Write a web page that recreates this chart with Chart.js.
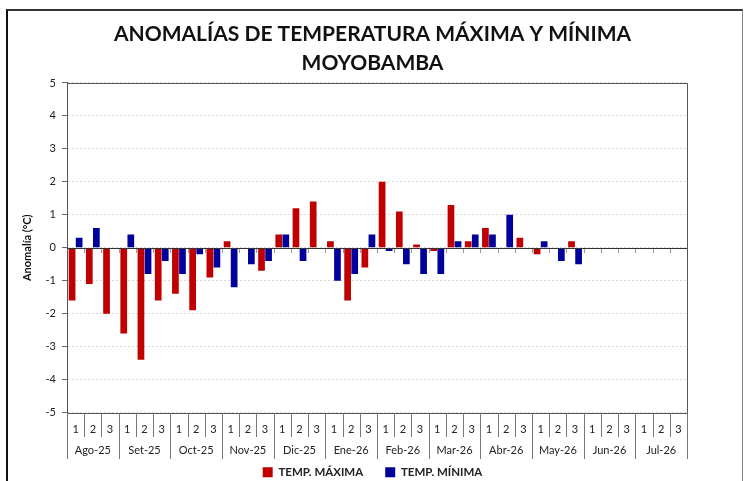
<!DOCTYPE html>
<html>
<head>
<meta charset="utf-8">
<script src="https://cdn.jsdelivr.net/npm/chart.js@4.4.1/dist/chart.umd.min.js"></script>
<style>
  html, body { margin: 0; padding: 0; background: #fff; }
  #wrap { position: relative; width: 745px; height: 481px; }
  #frame {
    position: absolute; left: 6px; top: 9px; width: 734px; height: 480px;
    border-left: 2px solid #111; border-top: 2px solid #333; border-right: 1px solid #888;
    pointer-events: none;
  }
</style>
</head>
<body>
<div id="wrap">
  <canvas id="chart" width="745" height="481"></canvas>
  <div id="frame"></div>
</div>
<script>
const months = ['Ago-25', 'Set-25', 'Oct-25', 'Nov-25', 'Dic-25', 'Ene-26',
                'Feb-26', 'Mar-26', 'Abr-26', 'May-26', 'Jun-26', 'Jul-26'];
const dekads = months.flatMap(() => ['1', '2', '3']);

// anomalias por decadas (°C)
const tempMax = [-1.6, -1.1, -2.0,  -2.6, -3.4, -1.6,  -1.4, -1.9, -0.9,
                  0.2,  0.0, -0.7,   0.4,  1.2,  1.4,   0.2, -1.6, -0.6,
                  2.0,  1.1,  0.1,  -0.1,  1.3,  0.2,   0.6,  0.0,  0.3,
                 -0.2,  0.0,  0.2,  null, null, null,  null, null, null];
const tempMin = [ 0.3,  0.6,  0.0,   0.4, -0.8, -0.4,  -0.8, -0.2, -0.6,
                 -1.2, -0.5, -0.4,   0.4, -0.4,  0.0,  -1.0, -0.8,  0.4,
                 -0.1, -0.5, -0.8,  -0.8,  0.2,  0.4,   0.4,  1.0,  0.0,
                  0.2, -0.4, -0.5,  null, null, null,  null, null, null];

const yTicks = [-5, -4, -3, -2, -1, 0, 1, 2, 3, 4, 5];

const FONT = 'Lato, "Open Sans", sans-serif';

// separadores del eje x, linea del cero y borde del area
const decorations = {
  id: 'decorations',
  afterDraw(chart) {
    const ctx = chart.ctx;
    const x = chart.scales.x;
    const y = chart.scales.y;
    const area = chart.chartArea;
    const n = dekads.length;
    const half = (x.getPixelForValue(1) - x.getPixelForValue(0)) / 2;
    const y0 = Math.round(y.getPixelForValue(0));
    const bottom = Math.round(area.bottom);

    ctx.save();
    ctx.lineWidth = 1;
    // borde superior y derecho
    ctx.strokeStyle = '#555';
    ctx.beginPath();
    ctx.moveTo(area.left, Math.round(area.top) + 0.5);
    ctx.lineTo(Math.round(area.right) + 0.5, Math.round(area.top) + 0.5);
    ctx.lineTo(Math.round(area.right) + 0.5, bottom + 46);
    ctx.stroke();

    // eje inferior
    ctx.beginPath();
    ctx.moveTo(area.left, bottom + 0.5);
    ctx.lineTo(area.right, bottom + 0.5);
    ctx.stroke();

    // linea del cero
    ctx.strokeStyle = '#333';
    ctx.beginPath();
    ctx.moveTo(area.left, y0 + 0.5);
    ctx.lineTo(area.right, y0 + 0.5);
    ctx.stroke();

    // marcas en la linea del cero
    ctx.strokeStyle = '#999';
    for (let i = 1; i < n; i++) {
      const px = Math.round(x.getPixelForValue(i) - half) + 0.5;
      ctx.beginPath();
      ctx.moveTo(px, y0 + 1);
      ctx.lineTo(px, y0 + 5);
      ctx.stroke();
    }

    // separadores de decadas y meses
    ctx.strokeStyle = '#777';
    for (let i = 0; i <= n; i++) {
      const px = Math.round(x.getPixelForValue(i) - half) + 0.5;
      const len = (i % 3 === 0) ? 46 : 24;
      ctx.beginPath();
      ctx.moveTo(px, bottom);
      ctx.lineTo(px, bottom + len);
      ctx.stroke();
    }

    // etiquetas de meses
    ctx.fillStyle = '#222';
    ctx.font = '11px ' + FONT;
    ctx.textAlign = 'center';
    ctx.textBaseline = 'middle';
    months.forEach((m, k) => {
      const cx = (x.getPixelForValue(3 * k) + x.getPixelForValue(3 * k + 2)) / 2;
      ctx.fillText(m, cx, bottom + 37);
    });
    ctx.restore();
  }
};

new Chart(document.getElementById('chart').getContext('2d'), {
  type: 'bar',
  data: {
    labels: dekads,
    datasets: [{
      label: 'TEMP. MÁXIMA',
      data: tempMax,
      backgroundColor: '#C00000',
      categoryPercentage: 0.82,
      barPercentage: 0.95
    }, {
      label: 'TEMP. MÍNIMA',
      data: tempMin,
      backgroundColor: '#00009C',
      categoryPercentage: 0.82,
      barPercentage: 0.95
    }]
  },
  plugins: [decorations],
  options: {
    responsive: false,
    animation: false,
    layout: { padding: { left: 0, right: 0, top: 8, bottom: -7 } },
    plugins: {
      title: {
        display: true,
        text: ['ANOMALÍAS DE TEMPERATURA MÁXIMA Y MÍNIMA', 'MOYOBAMBA'],
        color: '#111',
        font: { family: FONT, size: 21, weight: 'bold', lineHeight: 1.38 },
        padding: { top: 12, bottom: 5 }
      },
      legend: {
        position: 'bottom',
        labels: {
          color: '#222',
          boxWidth: 10,
          boxHeight: 10,
          padding: 22,
          font: { family: FONT, size: 11.5, weight: 'bold' }
        }
      },
      tooltip: { enabled: false }
    },
    scales: {
      x: {
        grid: { display: false },
        border: { display: false },
        ticks: {
          color: '#222',
          font: { family: FONT, size: 11 },
          maxRotation: 0,
          autoSkip: false,
          padding: 2
        },
        afterFit(scale) { scale.height = 32; }
      },
      y: {
        min: -5,
        max: 5,
        afterBuildTicks(scale) { scale.ticks = yTicks.map(v => ({ value: v })); },
        grid: {
          color: '#d9d9d9',
          tickColor: '#666',
          tickLength: 5
        },
        border: { color: '#555', dash: [2, 2] },
        ticks: {
          color: '#222',
          font: { family: FONT, size: 11 },
          padding: 6
        },
        title: {
          display: true,
          text: 'Anomalía (°C)',
          color: '#111',
          font: { family: FONT, size: 11, weight: 'bold' },
          padding: { top: 21, bottom: 0 }
        },
        afterFit(scale) { scale.width = 67; }
      },
      // espacio a la derecha del area de trazado
      yRight: {
        position: 'right',
        display: true,
        grid: { display: false },
        border: { display: false },
        ticks: { display: false },
        afterFit(scale) { scale.width = 58; }
      }
    }
  }
});
</script>
</body>
</html>
